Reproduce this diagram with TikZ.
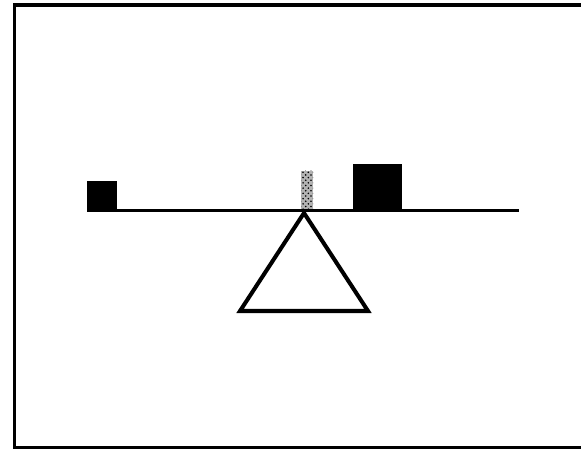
\documentclass[tikz,border=0pt]{standalone}
\usetikzlibrary{patterns}

\begin{document}
\begin{tikzpicture}[
        x=0.02cm, y=-0.02cm,
        frame/.style={line width=2pt, black},
        beam/.style={line width=1.7pt, black},
        weight/.style={fill=black, draw=black, line width=0.6pt},
        pivot/.style={line width=2.3pt, black},
        marker/.style={pattern=crosshatch dots, pattern color=black}
      ]
        \useasboundingbox (0,0) rectangle (581,449);
        % frame (right side runs off the page)
        \draw[frame] (581,5) -- (14.5,5) -- (14.5,447.5) -- (581,447.5);
        % beam and its loads
        \coordinate (bl) at (88,210.5);
        \coordinate (br) at (519,210.5);
        \draw[beam] (bl) -- (br);
        \draw[weight] (88,182) rectangle (116,211);
        \draw[weight] (354,165) rectangle (401,211);
        \fill[black!30] (301,171) rectangle (313,209);
        \fill[marker] (301,171) rectangle (313,209);
        % fulcrum
        \coordinate (apex) at (304,213);
        \draw[pivot] (apex) -- (368,311) -- (240,311) -- cycle;
      \end{tikzpicture}
\end{document}
